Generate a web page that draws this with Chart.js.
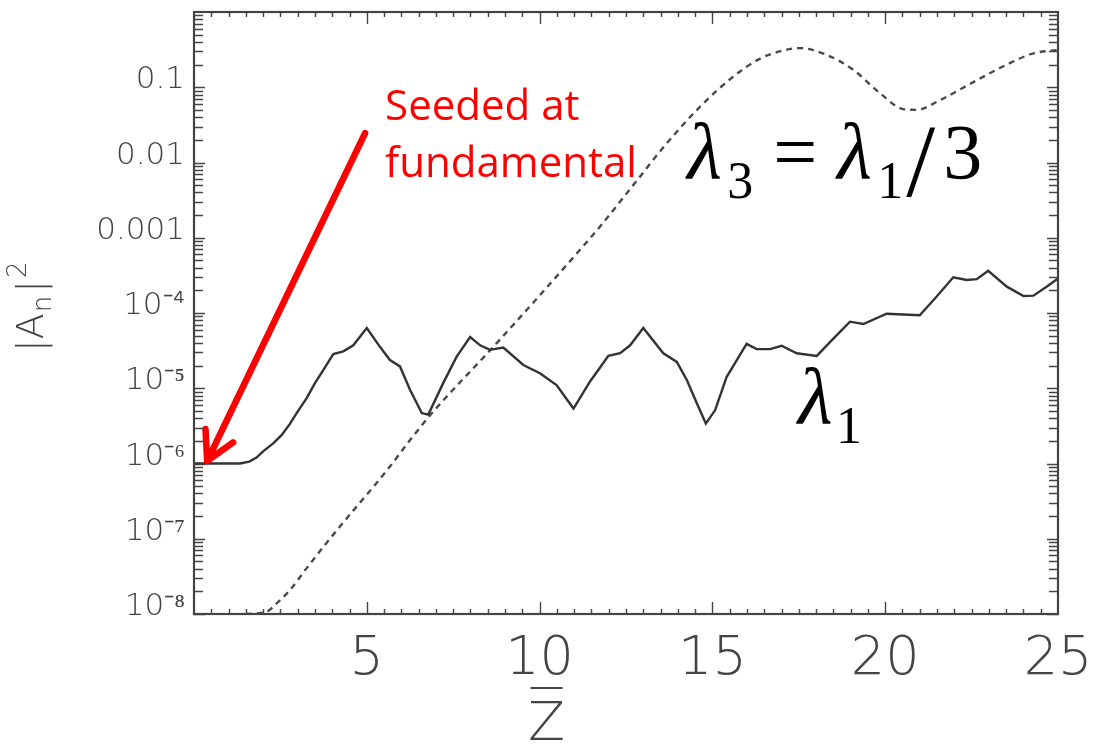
<!DOCTYPE html>
<html>
<head>
<meta charset="utf-8">
<script src="https://cdn.jsdelivr.net/npm/chart.js@4.4.1/dist/chart.umd.min.js"></script>
<style>
  html, body { margin: 0; padding: 0; background: #fff; }
  #chart { display: block; }
</style>
</head>
<body>
<canvas id="chart" width="1099" height="744"></canvas>
<script>
// lambda_1 (solid)
const zLambda1 = [0, 1.0, 1.33, 1.6, 1.81, 2.0, 2.3, 2.54, 2.78, 2.97, 3.26, 3.5, 3.74, 4.03, 4.32, 4.61, 5.0, 5.38, 5.67, 5.96, 6.25, 6.59, 6.78,
  7.21, 7.6, 7.99, 8.28, 8.56, 8.95, 9.53, 10.01, 10.49, 10.98, 11.46, 11.99, 12.33, 12.62, 13.0, 13.58, 13.97,
  14.26, 14.55, 14.81, 15.08, 15.41, 15.99, 16.28, 16.67, 17.0, 17.44, 18.02, 18.5, 18.98, 19.37, 20.04, 21.0,
  21.49, 21.97, 22.36, 22.65, 22.98, 23.52, 24.0, 24.29, 24.67, 25.0];
const aLambda1 = [1.0e-6, 1.0e-6, 1.0e-6, 1.06e-6, 1.2e-6, 1.45e-6, 1.86e-6, 2.4e-6, 3.39e-6, 4.68e-6, 7.41e-6, 1.17e-5, 1.74e-5, 2.85e-5, 3.09e-5, 3.72e-5, 6.31e-5, 3.55e-5, 2.37e-5, 1.95e-5, 9.55e-6, 4.68e-6, 4.47e-6,
  1.17e-5, 2.63e-5, 4.79e-5, 3.72e-5, 3.24e-5, 3.47e-5, 2.04e-5, 1.58e-5, 1.1e-5, 5.37e-6, 1.23e-5, 2.69e-5, 2.92e-5, 3.72e-5, 6.31e-5, 2.92e-5, 2.24e-5,
  1.29e-5, 6.31e-6, 3.39e-6, 5.13e-6, 1.41e-5, 3.89e-5, 3.31e-5, 3.31e-5, 3.67e-5, 2.92e-5, 2.69e-5, 4.57e-5, 7.67e-5, 7.14e-5, 9.77e-5, 9.33e-5,
  1.66e-4, 2.99e-4, 2.75e-4, 2.82e-4, 3.63e-4, 2.24e-4, 1.68e-4, 1.7e-4, 2.24e-4, 2.88e-4];

// lambda_3 = lambda_1 / 3 (dashed)
const zLambda3 = [1.5, 2.1, 2.39, 2.78, 3.26, 3.74, 4.22, 4.71, 5.19, 5.67, 6.15, 6.83, 8.76, 11.17, 11.75, 12.71, 13.68,
  14.64, 15.6, 16.38, 17.15, 17.53, 18.31, 19.08, 19.85, 20.52, 20.91, 21.59, 22.55, 23.52, 24.29, 25.0];
const aLambda3 = [1.0e-8, 1.07e-8, 1.38e-8, 2.09e-8, 4.07e-8, 7.76e-8, 1.45e-7, 2.69e-7, 4.9e-7, 9.12e-7, 1.78e-6, 4.37e-6, 3.98e-5, 6.92e-4, 1.41e-3, 5.01e-3, 1.8e-2,
  5.5e-2, 0.138, 0.24, 0.316, 0.331, 0.269, 0.17, 0.0832, 0.0513, 0.0501, 0.0676, 0.117, 0.2, 0.282, 0.313];

const xTickValues = [5, 10, 15, 20, 25];
const yTickValues = [1e-8, 1e-7, 1e-6, 1e-5, 1e-4, 1e-3, 1e-2, 1e-1];
const yTickLabels = ["10\u207B\u2078", "10\u207B\u2077", "10\u207B\u2076", "10\u207B\u2075", "10\u207B\u2074", "0.001", "0.01", "0.1"];

// annotation anchors, in data units (Z, |A|^2)
const arrowTail = [4.95, 0.0245];
const arrowHead = [0.38, 1.08e-6];
const seededAnchor = [5.53, 0.0367];
const eqAnchor = [14.27, 6.2e-3];
const lam1Anchor = [17.48, 3.45e-6];

const axisColor = "#444";
const tickFont = "DejaVu Sans";

function toPoints(xs, ys) {
  return xs.map((x, i) => ({ x, y: ys[i] }));
}

const frameTicks = {
  id: "frameTicks",
  afterDraw(chart) {
    const { ctx, chartArea: a, scales } = chart;
    const sx = scales.x, sy = scales.y;
    ctx.save();
    ctx.strokeStyle = axisColor;
    ctx.lineWidth = 1.4;
    ctx.beginPath();
    for (let i = 1; i < 50; i++) {
      const z = i * 0.5;
      const px = Math.round(sx.getPixelForValue(z)) + 0.5;
      const len = i % 10 === 0 ? 12 : 5;
      ctx.moveTo(px, a.bottom); ctx.lineTo(px, a.bottom - len);
      ctx.moveTo(px, a.top); ctx.lineTo(px, a.top + len);
    }
    for (let n = -8; n < 0; n++) {
      for (let m = 1; m <= 9; m++) {
        const v = m * Math.pow(10, n);
        const py = Math.round(sy.getPixelForValue(v)) + 0.5;
        const len = m === 1 ? 11 : 9;
        ctx.moveTo(a.left, py); ctx.lineTo(a.left + len, py);
        ctx.moveTo(a.right, py); ctx.lineTo(a.right - len, py);
      }
    }
    ctx.stroke();
    ctx.lineWidth = 2.2;
    ctx.strokeRect(a.left, a.top, a.right - a.left, a.bottom - a.top);

    // y title |A_n|^2
    ctx.fillStyle = axisColor;
    ctx.translate(43, 352);
    ctx.rotate(-Math.PI / 2);
    ctx.textBaseline = "alphabetic";
    ctx.font = "200 38px " + tickFont;
    let x = 0;
    ctx.fillText("|A", x, 0); x += ctx.measureText("|A").width;
    ctx.font = "200 26px " + tickFont;
    ctx.fillText("n", x + 1, 8); x += ctx.measureText("n").width + 4;
    ctx.font = "200 38px " + tickFont;
    ctx.fillText("|", x, 0); x += ctx.measureText("|").width + 2;
    ctx.font = "200 26px " + tickFont;
    ctx.fillText("2", x, -17);
    ctx.setTransform(1, 0, 0, 1, 0, 0);

    // x title Z with bar
    const zx = sx.getPixelForValue(10.2);
    ctx.font = "200 54px " + tickFont;
    ctx.textAlign = "center";
    ctx.fillText("Z", zx, 740);
    ctx.lineWidth = 2.2;
    ctx.beginPath();
    ctx.moveTo(zx - 16, 688); ctx.lineTo(zx + 16, 688);
    ctx.stroke();
    ctx.restore();
  }
};

function drawParts(ctx, x0, y0, parts) {
  parts.forEach((p) => {
    ctx.font = (p.italic ? "italic " : "") + p.size + "px 'Liberation Serif', 'DejaVu Serif', serif";
    ctx.fillText(p.t, x0 + p.dx, y0 + (p.dy || 0));
  });
}

const annotations = {
  id: "annotations",
  afterDatasetsDraw(chart) {
    const { ctx, scales } = chart;
    const sx = scales.x, sy = scales.y;
    const px = (p) => [sx.getPixelForValue(p[0]), sy.getPixelForValue(p[1])];
    ctx.save();

    // red arrow
    const [tx, ty] = px(arrowTail);
    const [hx, hy] = px(arrowHead);
    ctx.strokeStyle = "#ff0000";
    ctx.lineWidth = 6.5;
    ctx.lineCap = "round";
    ctx.lineJoin = "round";
    ctx.beginPath();
    ctx.moveTo(tx, ty); ctx.lineTo(hx + 2, hy - 4);
    const ang = Math.atan2(ty - hy, tx - hx);
    const barb = 32, spread = 0.5;
    ctx.moveTo(hx + barb * Math.cos(ang + spread), hy + barb * Math.sin(ang + spread));
    ctx.lineTo(hx, hy);
    ctx.lineTo(hx + barb * Math.cos(ang - spread), hy + barb * Math.sin(ang - spread));
    ctx.stroke();

    // red text
    const [sxp, syp] = px(seededAnchor);
    ctx.fillStyle = "#ff0000";
    ctx.font = "42px 'Open Sans', 'Noto Sans', sans-serif";
    ctx.textBaseline = "alphabetic";
    ctx.fillText("Seeded at", sxp, syp);
    ctx.fillText("fundamental", sxp, syp + 57);

    // lambda_3 = lambda_1 / 3
    ctx.fillStyle = "#000";
    const [ex, ey] = px(eqAnchor);
    drawParts(ctx, ex, ey, [
      { t: "\u03BB", size: 80, italic: true, dx: 0 },
      { t: "3", size: 52, dx: 40, dy: 20 },
      { t: "=", size: 78, dx: 86 },
      { t: "\u03BB", size: 80, italic: true, dx: 150 },
      { t: "1", size: 52, dx: 190, dy: 20 },
      { t: "/", size: 104, dx: 219, dy: 18 },
      { t: "3", size: 78, dx: 256 }
    ]);

    // lambda_1 label
    const [lx, ly] = px(lam1Anchor);
    drawParts(ctx, lx, ly, [
      { t: "\u03BB", size: 80, italic: true, dx: 0 },
      { t: "1", size: 52, dx: 38, dy: 20 }
    ]);
    ctx.restore();
  }
};

new Chart(document.getElementById("chart"), {
  type: "line",
  data: {
    datasets: [
      {
        label: "lambda1",
        data: toPoints(zLambda1, aLambda1),
        borderColor: "#333",
        borderWidth: 2.4,
        pointRadius: 0,
        tension: 0
      },
      {
        label: "lambda3",
        data: toPoints(zLambda3, aLambda3),
        borderColor: "#4a4a4a",
        borderWidth: 2.4,
        borderDash: [6, 5],
        pointRadius: 0,
        cubicInterpolationMode: "monotone"
      }
    ]
  },
  options: {
    responsive: false,
    animation: false,
    layout: { padding: { left: 0, top: 12, right: 41, bottom: 0 } },
    plugins: { legend: { display: false }, tooltip: { enabled: false } },
    scales: {
      x: {
        type: "linear",
        min: 0,
        max: 25,
        grid: { display: false, drawTicks: false },
        border: { display: false },
        afterFit: (s) => { s.height = 130; s.paddingLeft = 0; s.paddingRight = 0; },
        afterBuildTicks: (s) => { s.ticks = xTickValues.map((v) => ({ value: v })); },
        ticks: {
          color: axisColor,
          padding: 14,
          maxRotation: 0,
          autoSkip: false,
          font: { family: tickFont, size: 54, weight: "200" }
        }
      },
      y: {
        type: "logarithmic",
        min: 1e-8,
        max: 1,
        grid: { display: false, drawTicks: false },
        border: { display: false },
        afterFit: (s) => { s.width = 194; s.paddingTop = 0; s.paddingBottom = 0; },
        afterBuildTicks: (s) => { s.ticks = yTickValues.map((v) => ({ value: v })); },
        ticks: {
          color: axisColor,
          padding: 9,
          labelOffset: -7,
          autoSkip: false,
          font: { family: tickFont, size: 31, weight: "200" },
          callback: (v) => yTickLabels[yTickValues.indexOf(v)]
        }
      }
    }
  },
  plugins: [frameTicks, annotations]
});
</script>
</body>
</html>
